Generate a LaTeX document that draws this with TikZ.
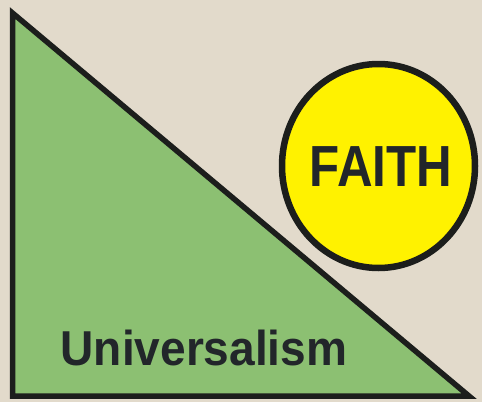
\documentclass[tikz,border=0pt]{standalone}
\usepackage{fontspec}
\usetikzlibrary{shapes.geometric}
\setmainfont{Liberation Sans}
\definecolor{bgbeige}{HTML}{E2DACB}
\definecolor{trigreen}{HTML}{8CC072}
\definecolor{faithyellow}{HTML}{FFF200}
\definecolor{outline}{HTML}{1C1E1C}
\definecolor{labeltext}{HTML}{22262A}
\begin{document}
\begin{tikzpicture}[x=1pt,y=-1pt,
  shapeline/.style={draw=outline,line width=5.5pt,line join=miter},
  lbl/.style={text=labeltext,font=\bfseries,inner sep=0pt,anchor=base}]
\useasboundingbox[fill=bgbeige] (0,0) rectangle (482,402);
\filldraw[shapeline,fill=trigreen] (12.5,13) coordinate (apex) -- (12.5,396) coordinate (corner) -- (469,396) coordinate (tip) -- cycle;
\node[shapeline,line width=6.5pt,fill=faithyellow,ellipse,minimum width=193pt,minimum height=204pt,inner sep=0pt] (faith) at (378.5,166) {};
\node[lbl,font=\fontsize{58}{58}\bfseries\selectfont] (faithtext) at (381,186) {\scalebox{0.85}[1]{FAITH}};
\node[lbl,font=\fontsize{49}{49}\bfseries\selectfont] (univ) at (204,365) {\scalebox{0.94}[1]{Universalism}};
\end{tikzpicture}
\end{document}
